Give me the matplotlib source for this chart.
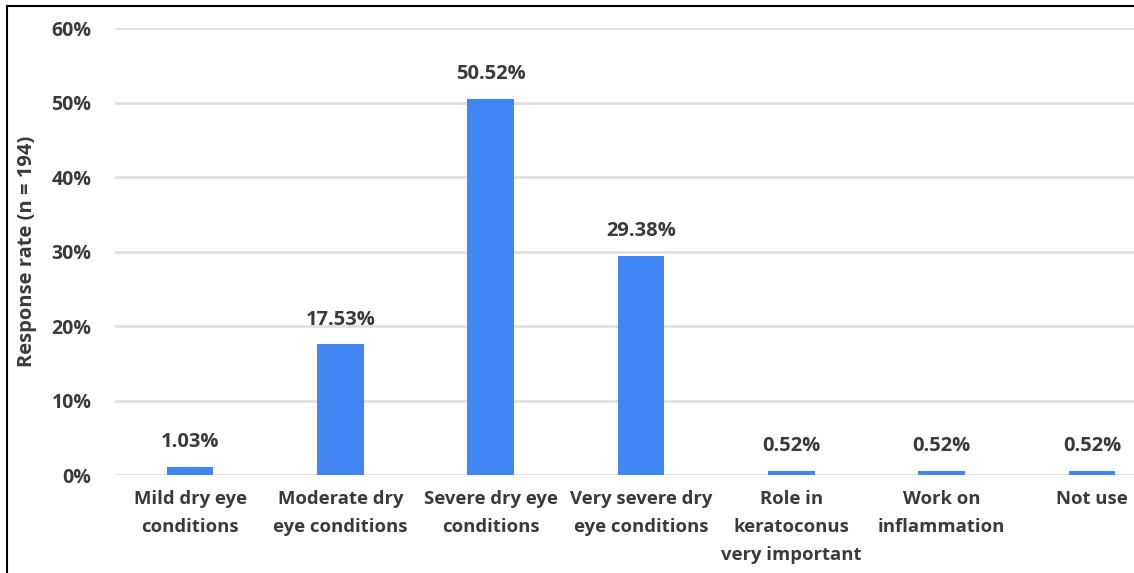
import matplotlib.pyplot as plt
from matplotlib.lines import Line2D

categories = ["Mild dry eye\nconditions", "Moderate dry\neye conditions", "Severe dry eye\nconditions",
              "Very severe dry\neye conditions", "Role in\nkeratoconus\nvery important",
              "Work on\ninflammation", "Not use"]
values = [1.03, 17.53, 50.52, 29.38, 0.52, 0.52, 0.52]
yticks = [0, 10, 20, 30, 40, 50, 60]

plt.rcParams['font.family'] = ['Open Sans', 'DejaVu Sans']
plt.rcParams['font.weight'] = 'bold'
txt = '#3a3a3a'

fig = plt.figure(figsize=(11.34, 5.73), dpi=100)
ax = fig.add_axes([0.1014, 0.171, 0.8986, 0.78])

x = list(range(len(values)))
ax.bar(x, values, width=0.31, color='#4285f4', zorder=3)
for xi, v in zip(x, values):
    ax.text(xi, v + 2.0, f"{v:.2f}%", ha='center', va='bottom', fontsize=14.5,
            fontweight='bold', color=txt)

ax.set_ylim(0, 60)
ax.set_xlim(-0.5, 6.28)
ax.set_yticks(yticks)
ax.set_yticklabels([f"{t}%" for t in yticks], fontsize=14, fontweight='bold', color=txt)
ax.set_xticks(x)
ax.set_xticklabels(categories, fontsize=13.3, fontweight='bold', color=txt, linespacing=1.7)
ax.tick_params(axis='both', length=0)
ax.tick_params(axis='y', pad=17)
ax.tick_params(axis='x', pad=11)
ax.grid(axis='y', color='#e0e0e0', linewidth=2, zorder=0)
for s in ax.spines.values():
    s.set_visible(False)
ax.set_ylabel("Response rate (n = 194)", fontsize=14.5, fontweight='bold', color=txt, labelpad=10)

# outer frame on left and top
fig.add_artist(Line2D([0.0065, 0.0065], [0, 0.99], transform=fig.transFigure, color='black', linewidth=1.5))
fig.add_artist(Line2D([0.0065, 1.0], [0.99, 0.99], transform=fig.transFigure, color='black', linewidth=1.5))

fig.savefig("out.png", dpi=100)
